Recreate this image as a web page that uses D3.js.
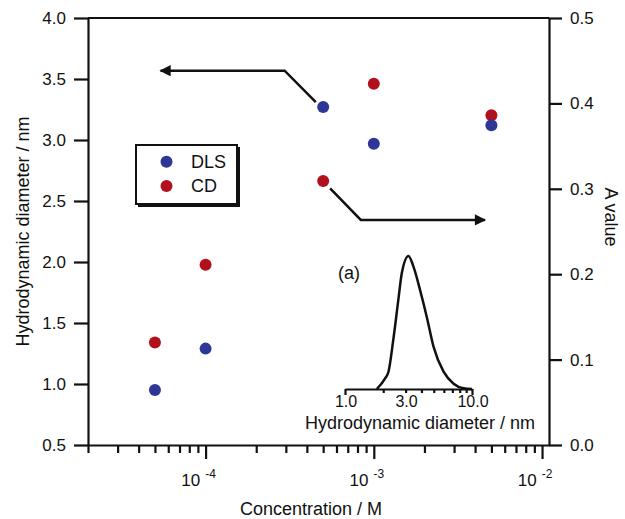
<!DOCTYPE html>
<html><head><meta charset="utf-8">
<script src="https://cdn.jsdelivr.net/npm/d3@7"></script>
<style>body{margin:0;background:#fff}svg{display:block}text{font-family:"Liberation Sans",Arial,Helvetica,sans-serif;fill:#111}</style>
</head><body><svg id="c" width="625" height="519"></svg>
<script>
// Data
const concentrations = [5e-5, 1e-4, 5e-4, 1e-3, 5e-3];
const dlsDiameter = [0.95, 1.29, 3.27, 2.97, 3.12];
const cdAValue = [0.120, 0.211, 0.309, 0.423, 0.386];
const leftTicks = [0.5, 1.0, 1.5, 2.0, 2.5, 3.0, 3.5, 4.0];
const rightTicks = [0.0, 0.1, 0.2, 0.3, 0.4, 0.5];
const xMajorExp = [-4, -3, -2];
// inset size distribution
const insetDiameter = [1.78, 2.07, 2.20, 2.40, 2.63, 2.80, 3.16, 3.46, 3.91, 4.41, 4.97, 5.97, 7.16, 8.59, 10.0];
const insetIntensity = [0, 8, 13, 37, 67, 87, 100, 92, 74, 54, 32, 13, 4, 0.5, 0];
const insetTickLabels = [1.0, 3.0, 10.0];
// annotation arrows (data units)
const leftArrow = [[4.52e-4, 3.31], [2.95e-4, 3.568], [5.4e-5, 3.568]];   // diameter axis
const rightArrow = [[5.5e-4, 0.3006], [8.37e-4, 0.2635], [4.58e-3, 0.2635]]; // A value axis

const svg = d3.select("#c");
const L = 88, R = 549, T = 18, B = 445;
const x = d3.scaleLog().domain([2e-5, 1.1e-2]).range([L, R]);
const yL = d3.scaleLinear().domain([0.5, 4.0]).range([B, T]);
const yR = d3.scaleLinear().domain([0, 0.5]).range([B, T]);
const blue = "#2e3696", red = "#b3101e";
const FS = 17, TS = 18;

// frame
svg.append("line").attr("x1", L).attr("x2", R).attr("y1", T).attr("y2", T).attr("stroke", "#111").attr("stroke-width", 2.2);

function styleAxis(g) {
  g.select(".domain").attr("stroke", "#111").attr("stroke-width", 2.2);
  g.selectAll(".tick line").attr("stroke", "#111").attr("stroke-width", 2.2);
  g.selectAll(".tick text").style("font-size", FS + "px").attr("fill", "#111");
}
// left axis
const gL = svg.append("g").attr("transform", `translate(${L},0)`)
  .call(d3.axisLeft(yL).tickValues(leftTicks).tickFormat(d3.format(".1f")).tickSize(14).tickPadding(8).tickSizeOuter(0));
styleAxis(gL);
// right axis
const gR = svg.append("g").attr("transform", `translate(${R},0)`)
  .call(d3.axisRight(yR).tickValues(rightTicks).tickFormat(d3.format(".1f")).tickSize(13).tickPadding(8).tickSizeOuter(0));
styleAxis(gR);
// bottom axis minor + major
const allXTicks = [];
for (let e = -5; e <= -2; e++) for (let m = 1; m <= 9; m++) {
  const v = m * Math.pow(10, e);
  if (v >= 2e-5 * 0.999 && v <= 1.1e-2) allXTicks.push(v);
}
const isMajor = d => Math.abs(Math.log10(d) - Math.round(Math.log10(d))) < 1e-6;
const gB = svg.append("g").attr("transform", `translate(0,${B})`)
  .call(d3.axisBottom(x).tickValues(allXTicks).tickFormat("").tickSize(8).tickSizeOuter(0));
styleAxis(gB);
gB.selectAll(".tick line").attr("y2", d => isMajor(d) ? 14 : 8);
// major labels 10^n
xMajorExp.forEach(e => {
  const t = svg.append("text").attr("x", x(Math.pow(10, e)) - 7).attr("y", 486).attr("text-anchor", "middle").style("font-size", FS + "px");
  t.append("tspan").text("10");
  t.append("tspan").attr("dx", 5).attr("dy", -8).style("font-size", "12px").text("-" + Math.abs(e));
});
// axis titles
svg.append("text").attr("transform", `translate(29,${(T + B) / 2}) rotate(-90)`).attr("text-anchor", "middle").style("font-size", TS + "px").text("Hydrodynamic diameter / nm");
svg.append("text").attr("transform", `translate(605,217) rotate(90)`).attr("text-anchor", "middle").style("font-size", TS + "px").text("A value");
svg.append("text").attr("x", 311).attr("y", 515).attr("text-anchor", "middle").style("font-size", TS + "px").text("Concentration / M");

// arrows
const defs = svg.append("defs");
defs.append("marker").attr("id", "ah").attr("viewBox", "0 0 10 10").attr("refX", 9).attr("refY", 5)
  .attr("markerWidth", 7.5).attr("markerHeight", 4.5).attr("markerUnits", "strokeWidth").attr("orient", "auto")
  .append("path").attr("d", "M0,0 L10,5 L0,10 Z").attr("fill", "#111");
const lineL = d3.line().x(d => x(d[0])).y(d => yL(d[1]));
const lineR = d3.line().x(d => x(d[0])).y(d => yR(d[1]));
svg.append("path").attr("d", lineL(leftArrow)).attr("fill", "none").attr("stroke", "#111").attr("stroke-width", 2.5).attr("marker-end", "url(#ah)");
svg.append("path").attr("d", lineR(rightArrow)).attr("fill", "none").attr("stroke", "#111").attr("stroke-width", 2.5).attr("marker-end", "url(#ah)");

// points
svg.append("g").selectAll("circle").data(concentrations).join("circle")
  .attr("cx", d => x(d)).attr("cy", (d, i) => yR(cdAValue[i])).attr("r", 6).attr("fill", red);
svg.append("g").selectAll("circle").data(concentrations).join("circle")
  .attr("cx", d => x(d)).attr("cy", (d, i) => yL(dlsDiameter[i])).attr("r", 6).attr("fill", blue);

// legend
const lg = svg.append("g");
lg.append("rect").attr("x", 138).attr("y", 147).attr("width", 102).attr("height", 60).attr("fill", "#111");
lg.append("rect").attr("x", 136).attr("y", 145).attr("width", 101).attr("height", 59).attr("fill", "#fff").attr("stroke", "#111").attr("stroke-width", 2);
[["DLS", blue], ["CD", red]].forEach((s, i) => {
  lg.append("circle").attr("cx", 166.5).attr("cy", 161.7 + i * 24.3).attr("r", 6).attr("fill", s[1]);
  lg.append("text").attr("x", 191).attr("y", 168 + i * 24.3).style("font-size", TS + "px").text(s[0]);
});

// inset
const ix = d3.scaleLog().domain([1, 10]).range([345, 472]);
const iy = d3.scaleLinear().domain([0, 100]).range([389, 256]);
const insetTicks = [];
for (let m = 1; m <= 10; m++) insetTicks.push(m);
const gI = svg.append("g").attr("transform", "translate(0,389)")
  .call(d3.axisBottom(ix).tickValues(insetTicks).tickFormat("").tickSize(4).tickSizeOuter(0));
styleAxis(gI);
gI.selectAll(".tick line").attr("y2", d => (d === 1 || d === 10) ? 6 : 4);
insetTickLabels.forEach(v => {
  svg.append("text").attr("x", ix(v) + 1).attr("y", 407).attr("text-anchor", "middle").style("font-size", "16px").text(d3.format(".1f")(v));
});
svg.append("text").attr("x", 420).attr("y", 429).attr("text-anchor", "middle").style("font-size", TS + "px").text("Hydrodynamic diameter / nm");
svg.append("text").attr("x", 338).attr("y", 279).style("font-size", TS + "px").text("(a)");
const inset = insetDiameter.map((d, i) => [d, insetIntensity[i]]);
svg.append("path").attr("d", d3.line().x(d => ix(d[0])).y(d => iy(d[1])).curve(d3.curveMonotoneX)(inset))
  .attr("fill", "none").attr("stroke", "#111").attr("stroke-width", 2.5).attr("stroke-linejoin", "round");
</script></body></html>
